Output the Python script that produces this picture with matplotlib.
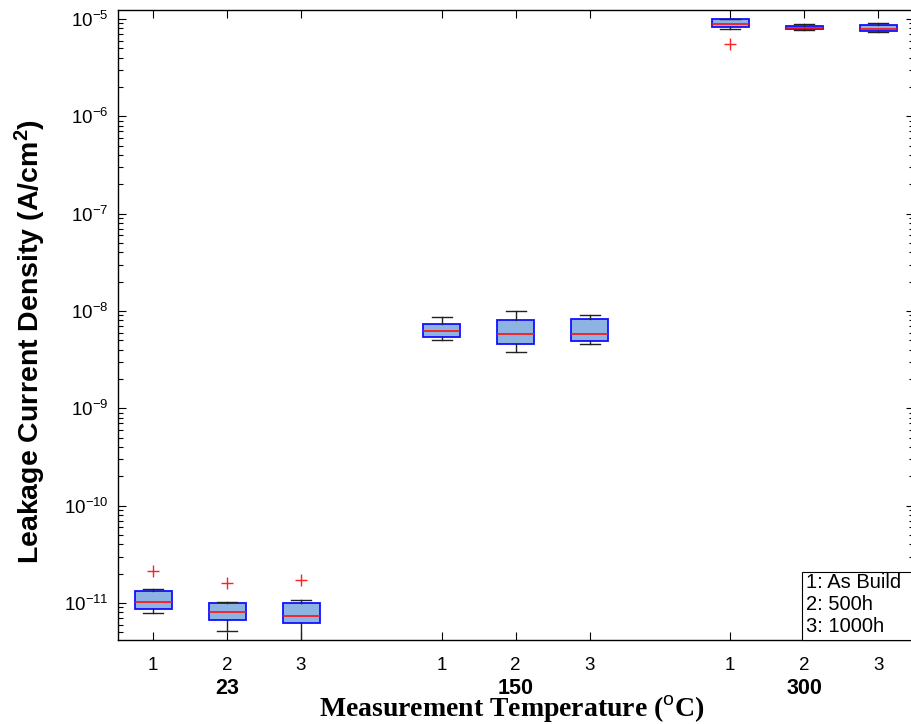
import matplotlib
matplotlib.use('Agg')
import matplotlib.pyplot as plt
from matplotlib.patches import Rectangle
from matplotlib.ticker import LogLocator, NullFormatter

plt.rcParams['font.family'] = ['Liberation Sans', 'DejaVu Sans']
plt.rcParams['mathtext.fontset'] = 'custom'
plt.rcParams['mathtext.rm'] = 'Liberation Sans'
plt.rcParams['mathtext.bf'] = 'Liberation Sans:bold'
plt.rcParams['mathtext.it'] = 'Liberation Sans:italic'
plt.rcParams['axes.unicode_minus'] = False

# ---- data ----
temperatures = ['23', '150', '300']
conditions = ['1', '2', '3']
legend_lines = ['1: As Build', '2: 500h', '3: 1000h']

whisker_low = [7.81e-12, 5.17e-12, 3.5e-12,
               5.06e-9, 3.81e-9, 4.57e-9,
               7.84e-6, 7.65e-6, 7.40e-6]
q1 = [8.58e-12, 6.66e-12, 6.30e-12,
      5.36e-9, 4.57e-9, 4.94e-9,
      8.22e-6, 7.95e-6, 7.58e-6]
median = [1.027e-11, 8.18e-12, 7.37e-12,
          6.17e-9, 5.75e-9, 5.75e-9,
          8.82e-6, 8.08e-6, 7.84e-6]
q3 = [1.33e-11, 1.01e-11, 1.01e-11,
      7.28e-9, 8.00e-9, 8.20e-9,
      9.93e-6, 8.47e-6, 8.67e-6]
whisker_high = [1.396e-11, 1.027e-11, 1.076e-11,
                8.72e-9, 1.005e-8, 9.08e-9,
                9.93e-6, 8.88e-6, 9.03e-6]
outliers = [[2.12e-11], [1.625e-11], [1.715e-11],
            [], [], [],
            [5.5e-6], [], []]

# ---- figure ----
W, H = 912, 724
fig = plt.figure(figsize=(W / 100, H / 100), dpi=100)
ax_l, ax_r, ax_t, ax_b = 118, 914, 10, 640
ax = fig.add_axes([ax_l / W, 1 - ax_b / H, (ax_r - ax_l) / W, (ax_b - ax_t) / H])

group_gap = 3.9
positions = []
for g in range(len(temperatures)):
    for i in range(len(conditions)):
        positions.append(1 + i + g * group_gap)

stats = []
for k in range(len(positions)):
    stats.append(dict(med=median[k], q1=q1[k], q3=q3[k],
                      whislo=whisker_low[k], whishi=whisker_high[k],
                      fliers=outliers[k]))

ax.bxp(stats, positions=positions, widths=0.5, capwidths=0.27,
       patch_artist=True,
       boxprops=dict(facecolor='#8DB3E2', edgecolor='#1010FF', linewidth=1.3),
       medianprops=dict(color='#FF1010', linewidth=1.2),
       whiskerprops=dict(color='#222222', linewidth=1.0, linestyle='-'),
       capprops=dict(color='#222222', linewidth=1.0),
       flierprops=dict(marker='+', markeredgecolor='#FF2020', markersize=9,
                       markeredgewidth=1.0, linestyle='none'))

ax.set_yscale('log')
ax.set_ylim(4.17e-12, 1.237e-5)
ax.set_xlim(0.527, 0.527 + (ax_r - ax_l) / 74.0)

ax.yaxis.set_major_locator(LogLocator(base=10, numticks=20))
ax.yaxis.set_minor_locator(LogLocator(base=10, subs=range(2, 10), numticks=20))
ax.yaxis.set_minor_formatter(NullFormatter())

ax.set_xticks(positions)
ax.set_xticklabels(conditions * len(temperatures))

ax.tick_params(axis='both', which='both', direction='in', top=True, right=True,
               width=0.8)
ax.tick_params(axis='both', which='major', length=6, labelsize=13.5)
ax.tick_params(axis='y', which='minor', length=3.5)
ax.tick_params(axis='x', which='major', pad=12)
ax.tick_params(axis='y', which='major', pad=7)
for s in ax.spines.values():
    s.set_linewidth(1.0)

# group labels
for g, t in enumerate(temperatures):
    xc = sum(positions[g * 3:(g + 1) * 3]) / 3
    ax.text(xc, -0.077, t, transform=ax.get_xaxis_transform(),
            ha='center', va='center', fontsize=15.5, fontweight='bold')

# x label
fig.text(512 / W, 1 - 709 / H, 'Measurement Temperature ($^{\\mathrm{o}}$C)',
         ha='center', va='center', fontsize=20, fontweight='bold',
         family=['Liberation Serif', 'DejaVu Serif'])

# y label
fig.text(30 / W, 1 - 341 / H, 'Leakage Current Density (A/cm$^{\\mathbf{2}}$)',
         ha='center', va='center', rotation=90, fontsize=20.5, fontweight='bold')

# legend-like text box
bx0 = (802 - ax_l) / (ax_r - ax_l)
bh = (ax_b - 572) / (ax_b - ax_t)
ax.add_patch(Rectangle((bx0, 0), 1.2 - bx0, bh, transform=ax.transAxes,
                       facecolor='white', edgecolor='black', linewidth=0.8,
                       clip_on=False, zorder=5))
tx = (806 - ax_l) / (ax_r - ax_l)
for j, line in enumerate(legend_lines):
    base_px = 588 + 22 * j
    ax.text(tx, (ax_b - base_px) / (ax_b - ax_t), line,
            transform=ax.transAxes, ha='left', va='baseline', fontsize=14.5,
            zorder=6)

fig.savefig('out.png', dpi=100)
